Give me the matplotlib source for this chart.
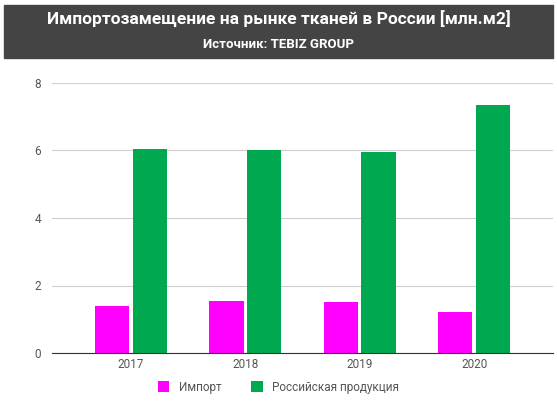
import matplotlib.pyplot as plt
from matplotlib.patches import Rectangle
import numpy as np

years = ["2017", "2018", "2019", "2020"]
imports = [1.38, 1.53, 1.52, 1.22]
domestic = [6.03, 6.00, 5.97, 7.35]
yticks = [0, 2, 4, 6, 8]

plt.rcParams["font.family"] = ["Roboto", "DejaVu Sans"]
W, H = 557, 412
fig = plt.figure(figsize=(W / 100, H / 100), dpi=100)

# header band
fig.patches.append(Rectangle((4 / W, 1 - 58 / H), 549 / W, 53 / H,
                             transform=fig.transFigure, color="#444444"))
fig.text(0.5, 1 - 20 / H, "Импортозамещение на рынке тканей в России [млн.м2]",
         ha="center", va="center", color="white", fontsize=12.5, fontweight="bold")
fig.text(0.5, 1 - 45 / H, "Источник: TEBIZ GROUP",
         ha="center", va="center", color="white", fontsize=9.5, fontweight="bold")

ax = fig.add_axes([52 / W, 1 - 353 / H, 501 / W, 270 / H])
x = np.arange(len(years))
w = 0.3
ax.bar(x - 0.165, imports, w, color="#ff00ff", label="Импорт")
ax.bar(x + 0.165, domestic, w, color="#00a94f", label="Российская продукция")
ax.set_ylim(0, 8)
ax.set_xlim(-0.69, 3.69)
ax.set_yticks(yticks)
ax.set_xticks(x)
ax.set_xticklabels(years)
ax.grid(axis="y", color="#d0d0d0", linewidth=0.8)
ax.set_axisbelow(True)
for s in ["top", "right", "left"]:
    ax.spines[s].set_visible(False)
ax.spines["bottom"].set_color("#333333")
ax.tick_params(length=0, labelsize=8.5, colors="#555555")
ax.tick_params(axis="y", pad=8)
fig.legend(loc="center", bbox_to_anchor=(0.5, 1 - 387 / H), ncol=2, frameon=False,
           fontsize=8.5, labelcolor="#555555", handlelength=1.0, handleheight=1.0,
           columnspacing=2.5)
fig.savefig("out.png", dpi=100)
